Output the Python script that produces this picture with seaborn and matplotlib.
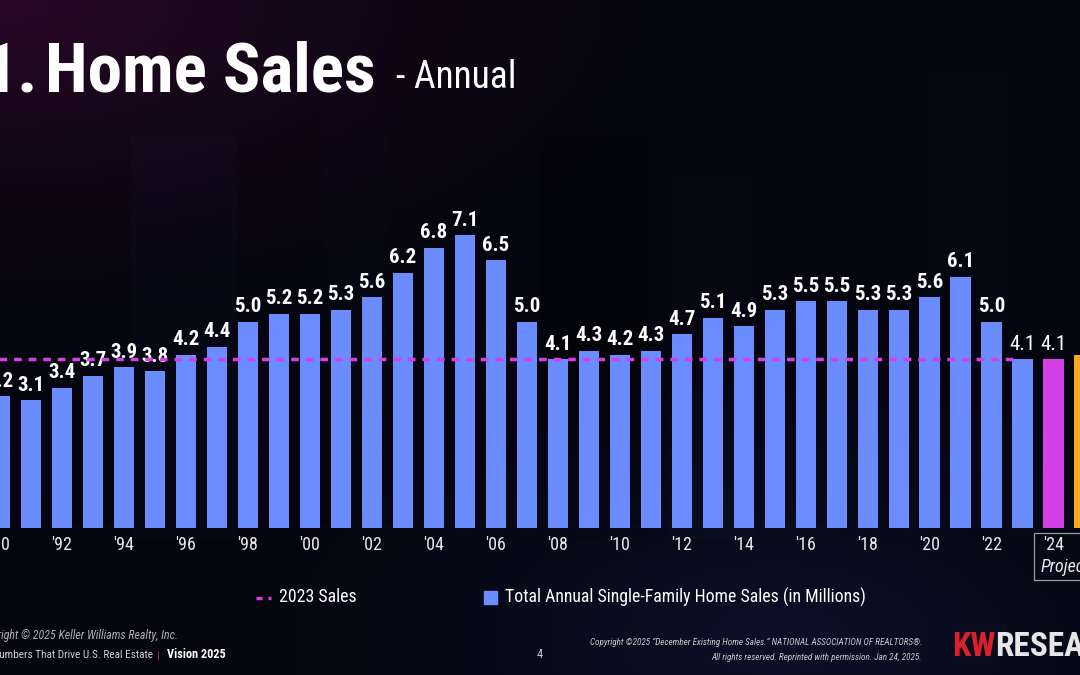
import numpy as np
import matplotlib
matplotlib.use('Agg')
import matplotlib.pyplot as plt
import seaborn as sns
from matplotlib import font_manager as fm
from matplotlib.patches import Rectangle
from matplotlib.lines import Line2D

# Data
years = list(range(1990, 2026))
sales = [3.2, 3.1, 3.4, 3.7, 3.9, 3.8, 4.2, 4.4, 5.0, 5.2, 5.2, 5.3, 5.6, 6.2, 6.8, 7.1,
         6.5, 5.0, 4.1, 4.3, 4.2, 4.3, 4.7, 5.1, 4.9, 5.3, 5.5, 5.5, 5.3, 5.3, 5.6, 6.1,
         5.0, 4.1, 4.1, 4.2]
sales_2023 = 4.1
tick_years = list(range(1990, 2025, 2))
tick_labels = ["'" + str(y)[2:] for y in tick_years]

BLUE = '#6a8cff'
MAGENTA = '#d43fe6'
ORANGE = '#fba823'
colors = [BLUE] * 34 + [MAGENTA, ORANGE]

sns.set_theme(style='dark')

# look for a narrow / condensed family
narrow = ('condensed', 'semi-condensed', 'extra-condensed', 'ultra-condensed')
fonts = fm.fontManager.ttflist
names = {f.name for f in fonts}
FAM, STRETCH, K = 'DejaVu Sans', 'normal', 0.8
for cand in ['Liberation Sans Narrow', 'Roboto Condensed', 'Open Sans Condensed']:
    if cand in names:
        FAM, STRETCH, K = cand, 'normal', 1.0
        break
else:
    for cand in ['Roboto', 'Noto Sans', 'Open Sans', 'DejaVu Sans', 'Liberation Sans']:
        if any(f.name == cand and str(f.stretch) in narrow for f in fonts):
            FAM, STRETCH, K = cand, 'condensed', 1.0
            break
plt.rcParams['font.family'] = [FAM, 'DejaVu Sans']
plt.rcParams['font.stretch'] = STRETCH


def fs(v):
    return v * K


W, H = 1080, 675
fig = plt.figure(figsize=(10.8, 6.75), dpi=100)

# background: dark gradient with faint vertical bands
bg = fig.add_axes([0, 0, 1, 1], zorder=-10)
xx, yy = np.meshgrid(np.linspace(0, 1, 540), np.linspace(0, 1, 338))
base = np.array([4, 5, 14]) / 255.0
purple = np.array([42, 8, 40]) / 255.0
navy = np.array([16, 20, 50]) / 255.0
wp = np.clip(1 - np.hypot(xx * 1.5, yy * 2.0), 0, 1) ** 1.4
wn = np.clip(1 - np.hypot((xx - 0.72) * 2.0, (yy - 0.95) * 2.5), 0, 1) * 0.7
img = base + wp[..., None] * (purple - base) + wn[..., None] * (navy - base)
bands = [(0.12, 0.22, 0.20, 0.80, 0.02), (0.50, 0.60, 0.20, 0.80, -0.012),
         (0.62, 0.70, 0.25, 0.80, 0.015), (0.86, 0.94, 0.10, 0.70, 0.012),
         (0.30, 0.36, 0.15, 0.60, 0.01)]
for bx0, bx1, by0, by1, d in bands:
    m = (xx >= bx0) & (xx < bx1) & (yy >= by0) & (yy < by1)
    img[m] += np.array([0.3, 0.4, 1.0]) * d
bg.imshow(np.clip(img, 0, 1), aspect='auto', extent=[0, 1, 0, 1], origin='upper')
bg.axis('off')

# main chart axes (pixel-based placement)
px_unit = 31.24
x0 = 8.5 / px_unit
x1 = (W + 8.5) / px_unit
base_y = 528
ax_h = 400
ax = fig.add_axes([0, (H - base_y) / H, 1, ax_h / H])
ax.set_facecolor('none')

labels = [str(y) for y in years]
sns.barplot(x=labels, y=sales, hue=labels, palette=colors, legend=False,
            width=0.67, saturation=1, linewidth=0, ax=ax, zorder=2)
ax.set_xlim(x0, x1)
ax.set_ylim(0, ax_h / 41.2)

for i, cont in enumerate(ax.containers):
    weight = 'bold' if i < 33 else 'normal'
    ax.bar_label(cont, fmt='%.1f', padding=4, color='white', fontsize=fs(15),
                 fontweight=weight)

ax.hlines(sales_2023, x0 - 1, 32.85, colors=MAGENTA, linewidth=2.5,
          linestyles=(0, (2.2, 2.0)), zorder=5)
ax.axhline(0, color='#4a4f5c', linewidth=0.8, zorder=1)

ax.set_xticks([years.index(y) for y in tick_years])
ax.set_xticklabels(tick_labels, color='#e8e8e8', fontsize=fs(13))
ax.tick_params(axis='x', length=0, pad=6)
ax.set_yticks([])
ax.set_xlabel('')
ax.set_ylabel('')
ax.grid(False)
for s in ax.spines.values():
    s.set_visible(False)

# projected box
fig.patches.append(Rectangle((1034 / W, (H - 580) / H), 60 / W, 47 / H,
                             transform=fig.transFigure, fill=False,
                             edgecolor='#9a9a9a', linewidth=0.9))
fig.text(1041 / W, (H - 567) / H, 'Projected', color='#e8e8e8', fontsize=fs(13),
         style='italic', va='center', ha='left')

# title
fig.text(38 / W, (H - 73) / H, '1.', color='white', fontsize=fs(50),
         fontweight='bold', ha='right', va='center')
fig.text(45 / W, (H - 73) / H, 'Home Sales', color='white', fontsize=fs(50),
         fontweight='bold', ha='left', va='center')
fig.text(396 / W, (H - 78) / H, '- Annual', color='white', fontsize=fs(27),
         ha='left', va='center')

# legend
fig.lines.append(Line2D([256 / W, 271 / W], [(H - 598) / H] * 2,
                        transform=fig.transFigure, color=MAGENTA,
                        linewidth=2.4, linestyle=(0, (1.8, 1.8))))
fig.text(279 / W, (H - 597) / H, '2023 Sales', color='white', fontsize=fs(12.8),
         va='center')
fig.patches.append(Rectangle((484 / W, (H - 604) / H), 13 / W, 13 / H,
                             transform=fig.transFigure, color=BLUE))
fig.text(505 / W, (H - 597) / H,
         'Total Annual Single-Family Home Sales (in Millions)',
         color='white', fontsize=fs(12.8), va='center')

# footer
fig.text(178 / W, (H - 636) / H, 'Copyright \u00a9 2025 Keller Williams Realty, Inc.',
         color='#b0b0b0', fontsize=fs(8.6), style='italic', ha='right', va='center')
fig.text(153 / W, (H - 655) / H, 'The Numbers That Drive U.S. Real Estate',
         color='#d0d0d0', fontsize=fs(8.1), ha='right', va='center')
fig.text(157 / W, (H - 655) / H, '|', color='#c03030', fontsize=fs(8), va='center')
fig.text(167 / W, (H - 655) / H, 'Vision 2025', color='white', fontsize=fs(8.8),
         fontweight='bold', va='center')
fig.text(537 / W, (H - 655) / H, '4', color='#c8c8c8', fontsize=fs(9), va='center')
fig.text(922 / W, (H - 642) / H,
         'Copyright \u00a92025 \u201cDecember Existing Home Sales.\u201d NATIONAL ASSOCIATION OF REALTORS\u00ae.',
         color='#c8c8c8', fontsize=fs(6.6), style='italic', ha='right', va='center')
fig.text(922 / W, (H - 657) / H,
         'All rights reserved. Reprinted with permission. Jan 24, 2025.',
         color='#c8c8c8', fontsize=fs(6.6), style='italic', ha='right', va='center')
fig.text(952 / W, (H - 647) / H, 'KW', color='#d9202b', fontsize=fs(24),
         fontweight='bold', va='center')
fig.text(995 / W, (H - 647) / H, 'RESEARCH', color='#e6e6e6', fontsize=fs(24),
         fontweight='bold', va='center')

fig.savefig('out.png', dpi=100, facecolor='#05060f')
